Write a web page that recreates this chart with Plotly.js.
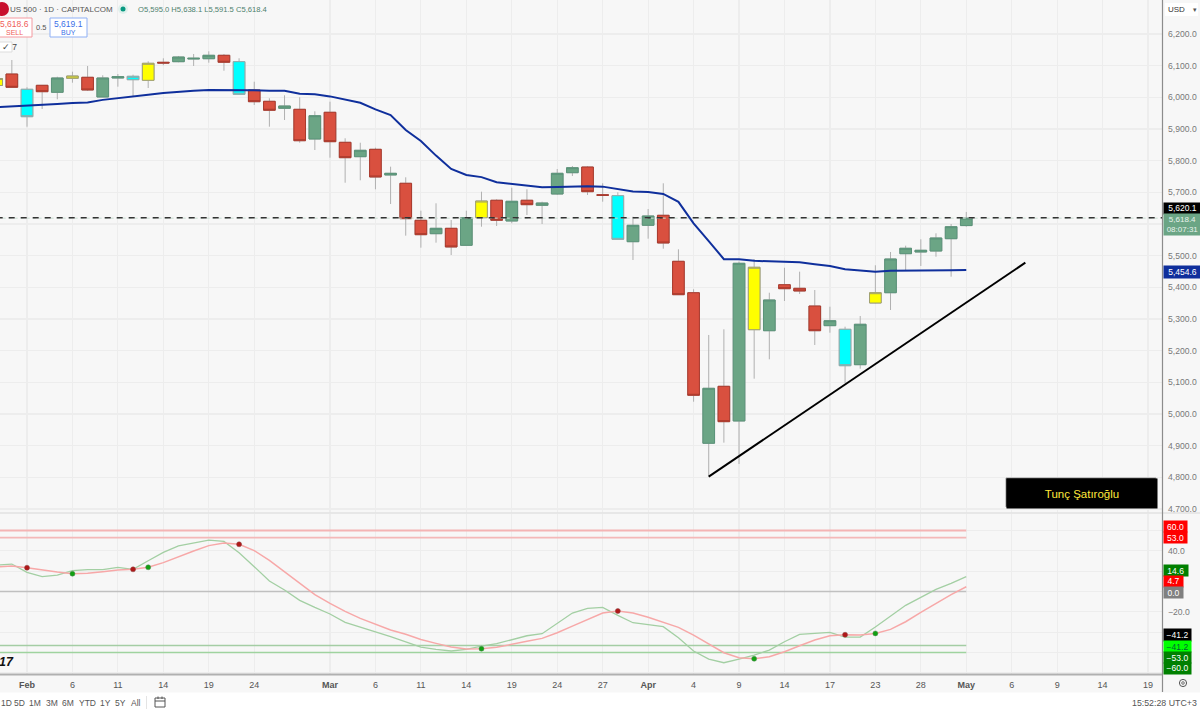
<!DOCTYPE html>
<html><head><meta charset="utf-8">
<script src="https://cdn.plot.ly/plotly-3.0.0.min.js"></script>
<style>html,body{margin:0;padding:0;background:#fff}#c{width:1200px;height:710px}</style>
</head><body><div id="c"></div>
<script>
// ---- data ----
const barIndex = [-2,-1,0,1,2,3,4,5,6,7,8,9,10,11,12,13,14,15,16,17,18,19,20,21,22,23,24,25,26,27,28,29,30,31,32,33,34,35,36,37,38,39,40,41,42,43,44,45,46,47,48,49,50,51,52,53,54,55,56,57,58,59,60,61,62];
const opens = [6037.4,6073.7,6025.4,6038,6015.9,6060.1,6063.3,6001.1,6061.1,6055.7,6053.8,6110.7,6112.6,6121.1,6122,6132.8,6112.6,6023.2,5987.5,5965.4,5962.2,5868.4,5952.8,5858,5812.6,5835.9,5754.8,5728.6,5611.7,5569.4,5586.4,5532.7,5619.9,5675,5609.5,5675,5659,5694.7,5762,5780,5692.5,5689.4,5544.1,5595.9,5627.5,5482.2,5383,4907.5,5087.4,4977.9,5266.2,5263,5408.3,5396.9,5341,5278.9,5267.4,5155.7,5350.5,5383,5506.2,5511.6,5514.7,5553.6,5595];
const highs = [6066,6117.9,6031.7,6039,6065.2,6081,6099,6069.6,6073.7,6071.5,6113.8,6123.3,6130.6,6136.9,6145.4,6136.9,6123.3,6049.4,5997,6006.4,6000.1,5955.9,5986.2,5870.7,5856.7,5841,5781,5747.5,5642,5665.4,5612.6,5642,5702,5678,5714.6,5709.6,5670.4,5773.7,5783.2,5783.2,5728.6,5700.1,5623,5647.4,5728.6,5520.1,5393.8,5249.5,5267.4,5481,5489.5,5383,5461.9,5449.4,5391.6,5338.8,5275.7,5309.5,5469.6,5511.6,5531.5,5551.7,5570.6,5600,5638.1];
const lows = [6030,6029.5,5907.3,5963.2,5993.8,6046.2,6020,6001.1,6033.6,6002,6029.5,6101.2,6110.7,6099,6109.4,6084.1,6007.4,5975.8,5907.3,5928.4,5856.7,5833.7,5809.4,5730.4,5738,5709.6,5663.2,5563.1,5525.2,5541,5502.1,5531.5,5591.5,5593.7,5602.2,5628.4,5600,5691.6,5751.6,5691.6,5670.4,5551.7,5486.3,5553.6,5522,5375.8,5038.8,4802,4909.4,4842,5111.5,5172.7,5356.8,5379,5217.9,5256.7,5097,5143,5349,5328.4,5454.7,5467.4,5496.7,5433.6,5591.5];
const closes = [6059.5,6031.7,5938.9,6017.8,6061.1,6067.4,6023.2,6061.1,6065.2,6066.4,6107.5,6108.4,6127.4,6123.3,6132.8,6110.7,6009.6,5986.2,5959.1,5972.6,5863,5942,5859.9,5809.4,5832.7,5748.4,5760.1,5616.8,5566.2,5586.4,5527.4,5619.9,5672.6,5611.7,5671.7,5661,5666.3,5760.1,5777.8,5702,5690.6,5551.7,5595.9,5625.3,5540,5376.7,5059,5081.1,4975.7,5475.9,5463.3,5360,5395.7,5388.4,5263,5294.6,5152.5,5283.3,5383,5489.5,5523.3,5517,5555.8,5591.5,5618.4];
const barColorClass = ["y","r","c","r","g","y","r","g","g","c","y","r","g","g","g","r","c","r","r","g","r","g","r","r","g","r","g","r","r","g","r","g","y","r","g","r","g","g","g","r","r","c","g","g","r","r","r","g","r","g","y","g","r","r","r","g","c","g","y","g","g","g","g","g","g"];
const maValues = [5969,5971,5973,5976,5979,5982,5984,5992,5997,6001,6008,6014,6018,6021,6023,6023,6024,6022,6021,6021,6011,6010,6003,5992,5983,5962,5944,5897,5862,5816,5774,5755,5748,5732,5726,5720,5716,5717,5719,5719,5718,5710,5703,5701,5695,5670,5602,5546,5489,5489,5484,5482,5481,5479,5473,5467,5457,5452,5449,5452,5452,5453,5453,5454,5454.6];
const oscFast = [26,27,18.8,14.6,16.2,20.5,21.5,21.5,23.8,21.8,30.3,38.5,44.8,47.7,50.6,49.3,38.2,24.4,10.3,1.5,-8.7,-15.6,-22.1,-30.3,-35.3,-39.8,-44.4,-49.4,-54.6,-56.9,-58.5,-56.9,-53.6,-51.3,-47.1,-43.5,-41.5,-31.3,-21.2,-16.6,-15.6,-23.4,-30.7,-32.6,-34.6,-45.4,-58.5,-66.4,-70,-66.4,-62.5,-57.6,-49.4,-42.1,-41.2,-40.2,-44.8,-44.8,-34.9,-24.1,-13.6,-5.7,2.1,8,14.6];
const oscSlow = [24.1,25.1,23.4,21.1,19.2,17.5,17.9,19.5,21.1,21.8,23.8,28.4,34.3,39.8,45.1,47.7,46.4,40.2,30.6,19.5,8,-3.1,-11.6,-19.5,-26.4,-32.3,-37.9,-42.1,-47.1,-51,-54.6,-56.6,-56.2,-54.9,-52.3,-49,-46.1,-40.5,-34,-27.4,-21.2,-19.2,-21.2,-25.4,-30,-35.3,-42.8,-51.6,-60.2,-65.1,-66.1,-64.1,-59.2,-53.3,-47.7,-43.5,-42.5,-42.8,-41.2,-37.2,-29.7,-20.5,-11.6,-3.1,4.7];
const crossUpBars = [3,8,30,48,56];
const crossDownBars = [0,7,14,39,54];
const oscLevels = [60,53,0,-53,-60];
const oscLevelColors = ["#f4b4b4","#f4b8b8","#c0c0c0","#a4cda4","#9fd39f"];
const oscLevelWidths = [2.2,1.6,1.5,1.5,1.5];
const trendX = [45,65.9];
const trendY = [4802,5478];
const alertPrice = 5620.1;
const lastPrice = 5618.4;
const xTickBars = [0,3,6,9,12,15,20,23,26,29,32,35,38,41,44,47,50,53,56,59,62,65,68,71,74];
const xTickText = ["<b>Feb</b>","6","11","14","19","24","<b>Mar</b>","6","11","14","19","24","27","<b>Apr</b>","4","9","14","17","23","28","<b>May</b>","6","9","14","19"];
const priceTicks = [4700,4800,4900,5000,5100,5200,5300,5400,5500,5600,5700,5800,5900,6000,6100,6200];
const priceTickText = ["4,700.0","4,800.0","4,900.0","5,000.0","5,100.0","5,200.0","5,300.0","5,400.0","5,500.0","","5,700.0","5,800.0","5,900.0","6,000.0","6,100.0","6,200.0"];
const oscTicks = [60,40,20,0,-20,-40,-60,-80];
const oscTickText = ["","40.0","","","\u221220.0","","",""];
const rangeButtons = ["1D","5D","1M","3M","6M","YTD","1Y","5Y","All"];

// ---- layout constants ----
const W = 1162, H = 674, FONT = '"Liberation Sans", Arial, sans-serif';
const px = v => v / W, py = v => 1 - v / H;
const bgColor = "#f7f7f7", gridColor = "#ededed";
const palette = {
  r:{fill:"#d9503f",line:"#a9392c"}, g:{fill:"#6ba585",line:"#5a9379"},
  y:{fill:"#ffff00",line:"#a0a070"}, c:{fill:"#00ffff",line:"#93aaaa"}
};

// ---- traces ----
const traces = [];
oscLevels.forEach((lv,i)=>traces.push({type:"scatter",mode:"lines",x:[barIndex[0],barIndex[barIndex.length-1]],y:[lv,lv],yaxis:"y2",
  line:{color:oscLevelColors[i],width:oscLevelWidths[i]},hoverinfo:"skip"}));
traces.push({type:"scatter",mode:"lines",x:[-2,75],y:[lastPrice,lastPrice],line:{color:"#c5ddd0",width:1,dash:"dot"},hoverinfo:"skip"});
traces.push({type:"scatter",mode:"lines",x:[-2,75],y:[alertPrice,alertPrice],line:{color:"#333",width:1.5,dash:"6px,6px"},hoverinfo:"skip"});
traces.push({type:"candlestick",x:barIndex,open:opens,high:highs,low:lows,close:closes,whiskerwidth:0,
  increasing:{line:{color:"#b0b0b0",width:1},fillcolor:"rgba(0,0,0,0)"},
  decreasing:{line:{color:"#b0b0b0",width:1},fillcolor:"rgba(0,0,0,0)"},hoverinfo:"skip"});
traces.push({type:"scatter",mode:"lines",x:barIndex,y:maValues,line:{color:"#0f2f9c",width:2},hoverinfo:"skip"});
Object.keys(palette).forEach(k=>{
  const ix = barIndex.map((_,i)=>i).filter(i=>barColorClass[i]===k);
  const o=ix.map(i=>opens[i]), c=ix.map(i=>closes[i]);
  const style={line:{color:palette[k].line,width:1},fillcolor:palette[k].fill};
  traces.push({type:"candlestick",x:ix.map(i=>barIndex[i]),open:o,close:c,
    high:o.map((v,j)=>Math.max(v,c[j])),low:o.map((v,j)=>Math.min(v,c[j])),
    whiskerwidth:0,increasing:style,decreasing:style,hoverinfo:"skip"});
});
traces.push({type:"scatter",mode:"lines",x:trendX,y:trendY,line:{color:"#000",width:2},hoverinfo:"skip"});
traces.push({type:"scatter",mode:"lines",x:barIndex,y:oscFast,yaxis:"y2",line:{color:"#a3cfa3",width:1.3},hoverinfo:"skip"});
traces.push({type:"scatter",mode:"lines",x:barIndex,y:oscSlow,yaxis:"y2",line:{color:"#f7a8a8",width:1.5},hoverinfo:"skip"});
const slowAt = b => oscSlow[barIndex.indexOf(b)];
traces.push({type:"scatter",mode:"markers",x:crossUpBars,y:crossUpBars.map(slowAt),yaxis:"y2",
  marker:{color:"#12a012",size:5,line:{color:"#5a8a5a",width:.5}},hoverinfo:"skip"});
traces.push({type:"scatter",mode:"markers",x:crossDownBars,y:crossDownBars.map(slowAt),yaxis:"y2",
  marker:{color:"#b01818",size:5,line:{color:"#8a4a4a",width:.5}},hoverinfo:"skip"});

// ---- annotations ----
const annotations = [];
function label(text,x,y,o={}){annotations.push({text,xref:"paper",yref:"paper",x:px(x),y:py(y),showarrow:false,
  xanchor:o.xa||"left",yanchor:"middle",borderpad:0,font:{family:FONT,size:o.size||9,color:o.color||"#555"}});}
function badge(text,x0,x1,y0,y1,bg,fg,size){annotations.push({text,xref:"paper",yref:"paper",x:px(x0),y:py(y0),showarrow:false,
  xanchor:"left",yanchor:"top",width:x1-x0,height:y1-y0,bgcolor:bg,borderpad:0,align:"center",valign:"middle",
  font:{family:FONT,size:size||8.5,color:fg}});}
badge("5,620.1",1163,1200,202,212.7,"#000","#fff");
badge("5,618.4<br>08:07:31",1163,1200,212.7,233.3,"#6ba585","#e8f2ec",8);
badge("5,454.6",1163,1200,265,276.7,"#0f2f9c","#fff");
badge("60.0",1163,1186,520,531.4,"#ff0000","#fff");
badge("53.0",1163,1186,531.4,542.7,"#ff0000","#fff");
badge("14.6",1163,1186.5,564,575.3,"#008000","#fff");
badge("4.7",1163,1182,575.3,586,"#ff0000","#fff");
badge("0.0",1163,1182,586,597,"#808080","#fff");
badge("\u221241.2",1163,1190,627.7,639.7,"#000","#fff");
badge("\u221241.2",1163,1190,639.7,651,"#00ff00","#063");
badge("\u221253.0",1163,1190,651,662,"#008000","#fff");
badge("\u221260.0",1163,1190,662,672.7,"#008000","#fff");
badge("Tun\u00e7 \u015eat\u0131ro\u011flu",1006,1156,478,507,"#000","#ffe93b",11.5);
label("USD",1167,9.5,{size:8,color:"#333"});
label("\u25be",1195,9.5,{size:7,color:"#555",xa:"center"});
label("US 500 \u00b7 1D \u00b7 CAPITALCOM",9,9.5,{size:8,color:"#555"});
label("O5,595.0 H5,638.1 L5,591.5 C5,618.4",137,9.5,{size:7.6,color:"#4c7f6c"});
label("5,618.6",14,24,{size:8.5,color:"#f0605a",xa:"center"});
label("SELL",14,32.5,{size:7,color:"#f0605a",xa:"center"});
label("0.5",41,28,{size:7.5,color:"#555",xa:"center"});
label("5,619.1",68,24,{size:8.5,color:"#3b6fe8",xa:"center"});
label("BUY",68,32.5,{size:7,color:"#3b6fe8",xa:"center"});
label("\u2713 7",1,47,{size:8.5,color:"#444"});
annotations.push({text:"<b><i>17</i></b>",xref:"paper",yref:"paper",x:px(15.5),y:py(662),showarrow:false,xanchor:"right",yanchor:"middle",
  font:{family:FONT,size:12.5,color:"#111"}});
const btnX=[6,19,35,52,68,87,105,120,136];
rangeButtons.forEach((t,i)=>label(t,btnX[i],703,{size:8.5,color:"#555",xa:"center"}));
label("15:52:28 UTC+3",1198,703,{size:8.8,color:"#555",xa:"right"});

// ---- shapes ----
const lineS=(x0,y0,x1,y1,color,width)=>({type:"line",xref:"paper",yref:"paper",x0:px(x0),y0:py(y0),x1:px(x1),y1:py(y1),line:{color,width},layer:"above"});
const rectS=(x0,y0,x1,y1,fill,color,width)=>({type:"rect",xref:"paper",yref:"paper",x0:px(x0),y0:py(y0),x1:px(x1),y1:py(y1),fillcolor:fill,line:{color:color||"rgba(0,0,0,0)",width:width||0},layer:"above"});
const circS=(cx,cy,r,fill,color,width)=>({type:"circle",xref:"paper",yref:"paper",x0:px(cx-r),y0:py(cy-r),x1:px(cx+r),y1:py(cy+r),fillcolor:fill,line:{color:color||"rgba(0,0,0,0)",width:width||0},layer:"above"});
const shapes=[
  rectS(0,692.5,1200,710,"#ffffff"),
  lineS(0,513,1200,513,"#e2e2e2",1.5),
  lineS(1162.5,0,1162.5,692,"#8c8c8c",1.2),
  lineS(0,674.5,1162,674.5,"#b0b0b0",2),
  rectS(1165,3,1198,16,"#ffffff"),
  rectS(-2,18,32,37,"#ffffff","#f59aa0",1),
  rectS(50,18,87,37,"#ffffff","#8fb0f5",1),
  rectS(-2,42,12,52,"#ffffff","#dddddd",1),
  circS(2,9,7,"#c8102e"),
  circS(123,9,5,"#dff0ec"),
  circS(123,9,2.5,"#089981"),
  rectS(1006,478,1156,507,"#000000","#999999",1),
  circS(1183,683,3.6,"rgba(0,0,0,0)","#555",1),
  circS(1183,683,1.3,"rgba(0,0,0,0)","#555",0.8),
  lineS(146.5,696,146.5,709,"#e4e4e4",1),
  rectS(155,698,165,707,"rgba(0,0,0,0)","#555",1),
  lineS(155,701,165,701,"#555",1),
  lineS(158,696.5,158,699,"#555",1),
  lineS(162,696.5,162,699,"#555",1)
];

// ---- layout ----
const layout = {
  width:1200,height:710,margin:{l:0,r:38,t:0,b:36,pad:0},
  paper_bgcolor:bgColor,plot_bgcolor:bgColor,showlegend:false,dragmode:false,hovermode:false,
  boxmode:"overlay",boxgap:0.23,boxgroupgap:0,
  font:{family:FONT,size:9,color:"#555"},
  xaxis:{type:"linear",range:[-1.782,74.92],anchor:"y2",rangeslider:{visible:false},tickmode:"array",tickvals:xTickBars,ticktext:xTickText,
    showgrid:true,gridcolor:gridColor,gridwidth:1.2,zeroline:false,showline:false,ticks:"",ticklabelstandoff:4,
    tickfont:{family:FONT,size:9,color:"#555"},fixedrange:true},
  yaxis:{domain:[1-513/H,1],range:[4687.3,6307.4],side:"right",tickmode:"array",tickvals:priceTicks,ticktext:priceTickText,
    showgrid:true,gridcolor:gridColor,gridwidth:1.2,zeroline:false,showline:false,ticks:"",ticklabelstandoff:5,
    tickfont:{family:FONT,size:8.6,color:"#777"},fixedrange:true},
  yaxis2:{domain:[0,1-514/H],range:[-81.1,76.2],side:"right",tickmode:"array",tickvals:oscTicks,ticktext:oscTickText,
    showgrid:true,gridcolor:gridColor,gridwidth:1.2,zeroline:false,showline:false,ticks:"",ticklabelstandoff:5,
    tickfont:{family:FONT,size:8.6,color:"#777"},fixedrange:true},
  annotations,shapes
};
Plotly.newPlot("c",traces,layout,{displayModeBar:false,staticPlot:true});
</script></body></html>
